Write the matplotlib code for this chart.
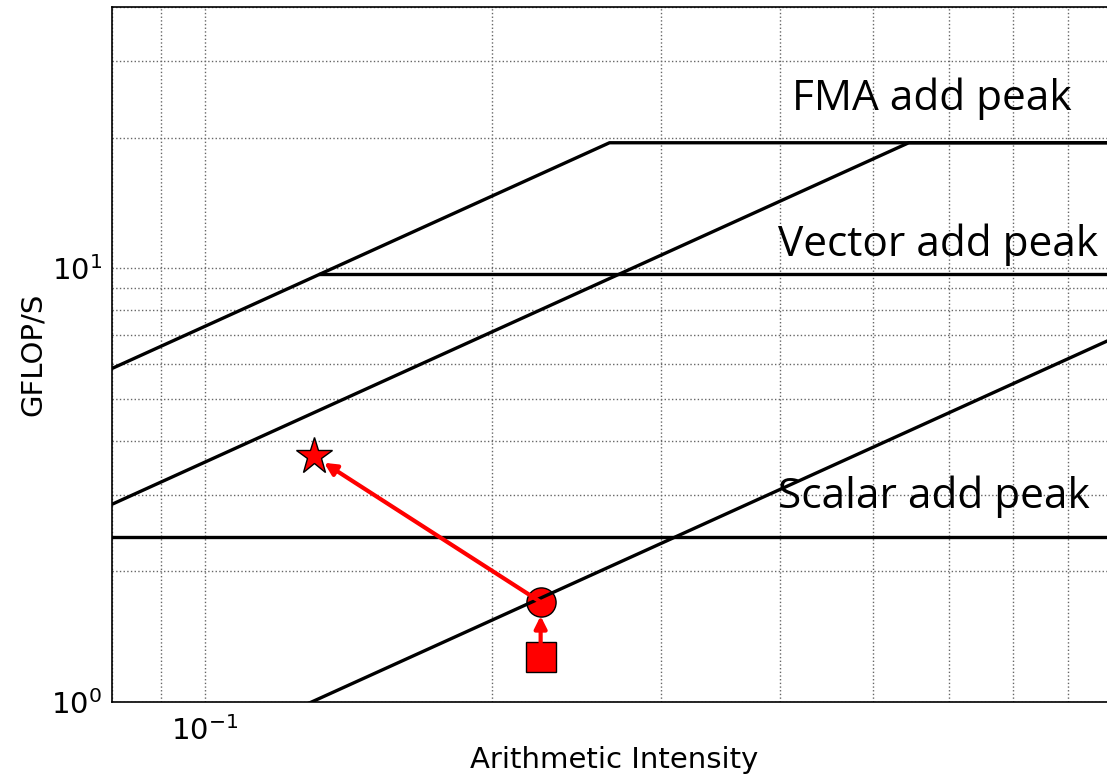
import numpy as np
import matplotlib
matplotlib.use("Agg")
import matplotlib.pyplot as plt

# roofline values
peak_names = ["Scalar add peak", "Vector add peak", "FMA add peak"]
peak_gflops = [2.40, 9.69, 19.46]
bandwidths = [73.4, 35.7, 7.73]

# measured kernel points: before, middle, after
point_ai = [0.2246, 0.2246, 0.130]
point_gflops = [1.27, 1.70, 3.69]
point_markers = ["s", "o", "*"]
point_sizes = [21, 21, 28]

x_min, x_max = 0.08, 0.9
y_min, y_max = 1.0, 40.0

fig = plt.figure(figsize=(11.07, 7.78), dpi=100)
ax = fig.add_axes([112 / 1107, 76 / 778, 1005 / 1107, 695 / 778])
ax.set_xscale("log")
ax.set_yscale("log")
ax.set_xlim(x_min, x_max)
ax.set_ylim(y_min, y_max)

scalar, vector, fma = peak_gflops

# horizontal peaks
ax.plot([x_min, x_max], [scalar, scalar], color="k", lw=2.4, zorder=3)
ax.plot([vector / bandwidths[0], x_max], [vector, vector], color="k", lw=2.4, zorder=3)

# bandwidth diagonals capped at the FMA peak
for bw in bandwidths:
    ridge = fma / bw
    if ridge < x_max:
        xs = [x_min, ridge, x_max]
    else:
        xs = [x_min, x_max]
    ys = [min(bw * x, fma) for x in xs]
    ax.plot(xs, ys, color="k", lw=2.4, zorder=3)

for x, y, m, s in zip(point_ai, point_gflops, point_markers, point_sizes):
    ax.plot(x, y, marker=m, markersize=s, color="red", markeredgecolor="k",
            markeredgewidth=1.0, linestyle="none", zorder=2)

# arrows: square -> circle, circle -> star
ax.annotate("", xy=(point_ai[1], point_gflops[1]), xytext=(point_ai[0], point_gflops[0]),
            arrowprops=dict(arrowstyle="-|>", color="red", lw=3, mutation_scale=18,
                            shrinkA=8, shrinkB=10), zorder=4)
ax.annotate("", xy=(point_ai[2], point_gflops[2]), xytext=(point_ai[1], point_gflops[1]),
            arrowprops=dict(arrowstyle="-|>", color="red", lw=3, mutation_scale=18,
                            shrinkA=0, shrinkB=9), zorder=4)

label_x = [0.398, 0.398, 0.411]
label_y = [2.80, 10.66, 23.1]
for name, lx, ly in zip(peak_names, label_x, label_y):
    ax.text(lx, ly, name, family="Open Sans", fontsize=30.5, ha="left", va="baseline", zorder=5)

ax.grid(True, which="both", linestyle=":", color="0.4", lw=1)
ax.tick_params(which="both", length=0, labelsize=21)
ax.tick_params(axis="x", pad=10)
ax.tick_params(axis="y", pad=7)
for sp in ax.spines.values():
    sp.set_linewidth(1.2)

ax.set_xlabel("Arithmetic Intensity", fontsize=21, labelpad=0)
ax.set_ylabel("GFLOP/S", fontsize=21, labelpad=3)

fig.savefig("out.png", dpi=100)
